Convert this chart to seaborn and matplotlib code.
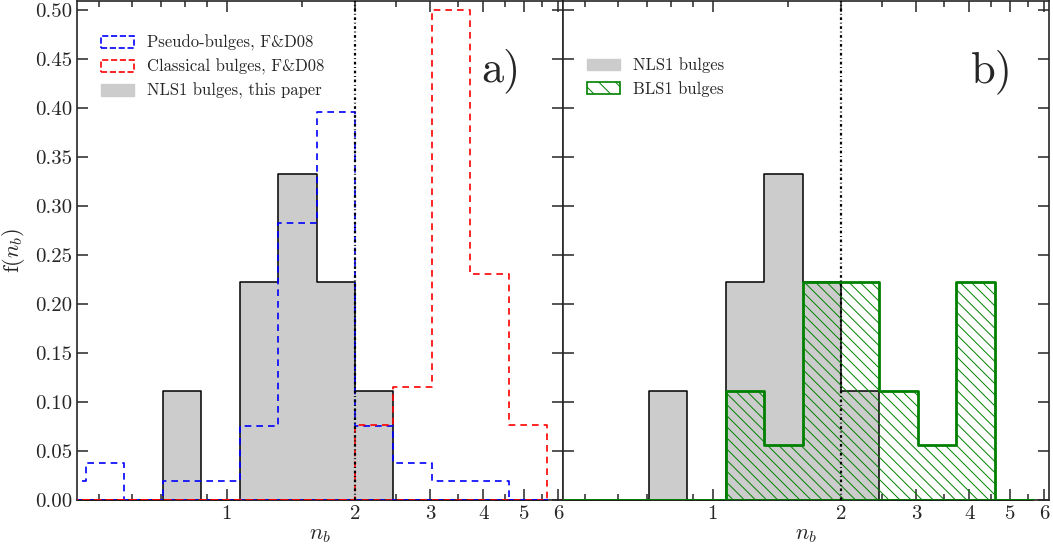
import numpy as np
import matplotlib
matplotlib.use('Agg')
import matplotlib.pyplot as plt
import seaborn as sns
from matplotlib.patches import Patch
from matplotlib.ticker import FixedLocator, FixedFormatter, NullFormatter

# bordas dos bins em n_b (bins iguais em log)
bin_edges = [0.379, 0.466, 0.574, 0.707, 0.871, 1.072, 1.320, 1.625,
             2.0, 2.462, 3.031, 3.732, 4.595, 5.656]

# fração de objetos em cada bin
pseudo_fd08 = [0.019, 0.038, 0.0, 0.019, 0.019, 0.075, 0.283, 0.396,
               0.075, 0.038, 0.019, 0.019, 0.0]
classic_fd08 = [0.0, 0.0, 0.0, 0.0, 0.0, 0.0, 0.0, 0.0,
                0.077, 0.115, 0.500, 0.231, 0.077]
nls1 = [0.0, 0.0, 0.0, 0.111, 0.0, 0.222, 0.333, 0.222,
        0.111, 0.0, 0.0, 0.0, 0.0]
bls1 = [0.0, 0.0, 0.0, 0.0, 0.0, 0.111, 0.056, 0.222,
        0.222, 0.111, 0.056, 0.222, 0.0]

major_ticks = [1, 2, 3, 4, 5, 6]
minor_ticks = [0.5, 0.6, 0.7, 0.8, 0.9, 1.5, 2.5, 3.5, 4.5, 5.5]
y_ticks = [0.0, 0.05, 0.10, 0.15, 0.20, 0.25, 0.30, 0.35, 0.40, 0.45, 0.50]

sns.set_style('ticks')
plt.rcParams['font.family'] = ['cmr10', 'DejaVu Serif']
plt.rcParams['mathtext.fontset'] = 'cm'
plt.rcParams['axes.formatter.use_mathtext'] = True
plt.rcParams['axes.linewidth'] = 1.2
plt.rcParams['hatch.linewidth'] = 0.7

edges = np.array(bin_edges)
centers = np.sqrt(edges[:-1] * edges[1:])
# seaborn espera as bordas no espaço log quando log_scale=True (lista, não array)
log_edges = list(np.log10(edges))


def hist(ax, fracs, **kws):
    sns.histplot(x=centers, weights=fracs, bins=log_edges, log_scale=True,
                 stat='count', element='step', fill=True, ax=ax, **kws)


def style_axis(ax, label_y):
    ax.set_xlim(0.445, 6.16)
    ax.set_ylim(0, 0.509)
    ax.xaxis.set_major_locator(FixedLocator(major_ticks))
    ax.xaxis.set_major_formatter(FixedFormatter([str(t) for t in major_ticks]))
    ax.xaxis.set_minor_locator(FixedLocator(minor_ticks))
    ax.xaxis.set_minor_formatter(NullFormatter())
    ax.set_yticks(y_ticks)
    ax.tick_params(which='both', direction='in', top=True, right=True, width=1.1)
    ax.tick_params(which='major', length=8, labelsize=15)
    ax.tick_params(which='minor', length=4)
    if label_y:
        ax.set_yticklabels(['%.2f' % v for v in y_ticks])
        ax.set_ylabel('f($n_b$)', fontsize=16, labelpad=6)
    else:
        ax.tick_params(axis='y', labelleft=False)
        ax.set_ylabel('')
    ax.set_xlabel('$n_b$', fontsize=16, labelpad=2)
    ax.axvline(2, color='black', lw=1.6, ls=(0, (1.2, 1.2, 0.4, 1.2)), zorder=10)


fig, axs = plt.subplots(1, 2, figsize=(10.53, 5.49), dpi=100, sharey=True)
fig.subplots_adjust(left=0.0731, right=0.9962, bottom=0.0893, top=0.998, wspace=0)

# painel a)
ax = axs[0]
hist(ax, nls1, color='#cccccc', alpha=1, edgecolor='black', linewidth=1.1, zorder=2)
hist(ax, pseudo_fd08, color='blue', facecolor='none', edgecolor='blue',
     linewidth=1.2, linestyle=(0, (4, 3)), zorder=3)
hist(ax, classic_fd08, color='red', facecolor='none', edgecolor='red',
     linewidth=1.2, linestyle=(0, (4, 3)), zorder=3)
style_axis(ax, True)
handles = [Patch(facecolor='none', edgecolor='blue', linestyle='--', linewidth=1.2),
           Patch(facecolor='none', edgecolor='red', linestyle='--', linewidth=1.2),
           Patch(facecolor='#cccccc', edgecolor='#cccccc')]
ax.legend(handles, ['Pseudo-bulges, F&D08', 'Classical bulges, F&D08', 'NLS1 bulges, this paper'],
          loc='upper left', bbox_to_anchor=(0.035, 0.945), borderaxespad=0, frameon=False,
          fontsize=12, handlelength=2.0, labelspacing=0.45)
ax.text(0.872, 0.86, 'a)', transform=ax.transAxes, fontsize=32, ha='center', va='center')

# painel b)
ax = axs[1]
hist(ax, nls1, color='#cccccc', alpha=1, edgecolor='black', linewidth=1.1, zorder=2)
hist(ax, bls1, color='green', facecolor='none', edgecolor='green',
     hatch='\\\\\\', linewidth=2, zorder=3)
style_axis(ax, False)
handles = [Patch(facecolor='#cccccc', edgecolor='#cccccc'),
           Patch(facecolor='none', edgecolor='green', hatch='\\\\', linewidth=1.2)]
ax.legend(handles, ['NLS1 bulges', 'BLS1 bulges'],
          loc='upper left', bbox_to_anchor=(0.035, 0.90), borderaxespad=0, frameon=False,
          fontsize=12, handlelength=2.0, labelspacing=0.45)
ax.text(0.883, 0.858, 'b)', transform=ax.transAxes, fontsize=32, ha='center', va='center')

fig.savefig('out.png', dpi=100)
